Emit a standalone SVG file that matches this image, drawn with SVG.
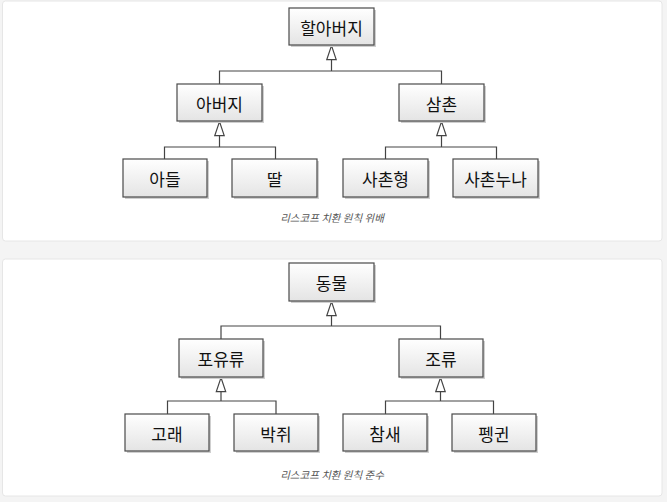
<svg xmlns="http://www.w3.org/2000/svg" width="667" height="502" viewBox="0 0 667 502">
<defs>
<linearGradient id="g" x1="0" y1="0" x2="0" y2="1">
<stop offset="0" stop-color="#ffffff"/>
<stop offset="1" stop-color="#e4e4e4"/>
</linearGradient>
<marker id="tri" viewBox="0 0 16 12" refX="15" refY="6" markerWidth="16" markerHeight="12" markerUnits="userSpaceOnUse" orient="auto">
<path d="M15 6 L1 1.3 L1 10.7 Z" fill="#fff" stroke="#444" stroke-width="1.2"/>
</marker>
</defs>
<style>
.card{fill:#ffffff;stroke:#e6e6e6;stroke-width:1}
.box{fill:url(#g);stroke:#4a4a4a;stroke-width:1.2}
.sh{fill:#cfcfcf}
.lbl{font-family:"Noto Sans CJK KR","Noto Sans",sans-serif;font-size:17px;fill:#111;text-anchor:middle;dominant-baseline:central}
.cap{font-family:"Noto Sans CJK KR","Noto Sans",sans-serif;font-size:10.5px;font-style:italic;fill:#555;text-anchor:middle}
.ln{fill:none;stroke:#444;stroke-width:1.2}
</style>
<rect width="667" height="502" fill="#f4f4f4"/>
<rect class="card" x="2.5" y="1" width="659.5" height="240" rx="3"/>
<rect class="card" x="2.5" y="259" width="659.5" height="237" rx="3"/>

<g id="connectors">
<path class="ln" d="M331.5 71 V45.6" marker-end="url(#tri)"/>
<path class="ln" d="M219.5 84 V71 H441.5 V84"/>
<path class="ln" d="M219.5 147 V121.6" marker-end="url(#tri)"/>
<path class="ln" d="M164.5 159 V147 H275.5 V159"/>
<path class="ln" d="M441.5 147 V121.6" marker-end="url(#tri)"/>
<path class="ln" d="M385.5 159 V147 H496.5 V159"/>

<path class="ln" d="M331.5 326 V301.6" marker-end="url(#tri)"/>
<path class="ln" d="M221 339 V326 H440.5 V339"/>
<path class="ln" d="M221 401 V377.6" marker-end="url(#tri)"/>
<path class="ln" d="M167.5 414 V401 H276 V414"/>
<path class="ln" d="M440.5 401 V377.6" marker-end="url(#tri)"/>
<path class="ln" d="M385.5 414 V401 H493.5 V414"/>
</g>

<g id="n-grandfather"><rect class="sh" x="291" y="10" width="85" height="37"/><rect class="box" x="289" y="8" width="85" height="37"/><text class="lbl" x="331.5" y="27">할아버지</text></g>
<g id="n-father"><rect class="sh" x="179" y="86" width="85" height="37"/><rect class="box" x="177" y="84" width="85" height="37"/><text class="lbl" x="219.5" y="103">아버지</text></g>
<g id="n-uncle"><rect class="sh" x="401" y="86" width="85" height="37"/><rect class="box" x="399" y="84" width="85" height="37"/><text class="lbl" x="441.5" y="103">삼촌</text></g>
<g id="n-son"><rect class="sh" x="125" y="161" width="84" height="38"/><rect class="box" x="123" y="159" width="84" height="38"/><text class="lbl" x="165" y="178">아들</text></g>
<g id="n-daughter"><rect class="sh" x="234" y="161" width="85" height="38"/><rect class="box" x="232" y="159" width="85" height="38"/><text class="lbl" x="274.5" y="178">딸</text></g>
<g id="n-cousin-m"><rect class="sh" x="345" y="161" width="85" height="38"/><rect class="box" x="343" y="159" width="85" height="38"/><text class="lbl" x="385.5" y="178">사촌형</text></g>
<g id="n-cousin-f"><rect class="sh" x="455" y="161" width="85" height="38"/><rect class="box" x="453" y="159" width="85" height="38"/><text class="lbl" x="495.5" y="178">사촌누나</text></g>
<text class="cap" x="332" y="222">리스코프 치환 원칙 위배</text>

<g id="n-animal"><rect class="sh" x="291" y="265" width="85" height="38"/><rect class="box" x="289" y="263" width="85" height="38"/><text class="lbl" x="331.5" y="282">동물</text></g>
<g id="n-mammal"><rect class="sh" x="181" y="341" width="84" height="38"/><rect class="box" x="179" y="339" width="84" height="38"/><text class="lbl" x="221" y="358">포유류</text></g>
<g id="n-bird"><rect class="sh" x="401" y="341" width="84" height="38"/><rect class="box" x="399" y="339" width="84" height="38"/><text class="lbl" x="441" y="358">조류</text></g>
<g id="n-whale"><rect class="sh" x="127" y="416" width="84" height="37"/><rect class="box" x="125" y="414" width="84" height="37"/><text class="lbl" x="167" y="433">고래</text></g>
<g id="n-bat"><rect class="sh" x="236" y="416" width="84" height="37"/><rect class="box" x="234" y="414" width="84" height="37"/><text class="lbl" x="276" y="433">박쥐</text></g>
<g id="n-sparrow"><rect class="sh" x="345" y="416" width="84" height="37"/><rect class="box" x="343" y="414" width="84" height="37"/><text class="lbl" x="385" y="433">참새</text></g>
<g id="n-penguin"><rect class="sh" x="454" y="416" width="84" height="37"/><rect class="box" x="452" y="414" width="84" height="37"/><text class="lbl" x="494" y="433">펭귄</text></g>
<text class="cap" x="332" y="479">리스코프 치환 원칙 준수</text>
</svg>
